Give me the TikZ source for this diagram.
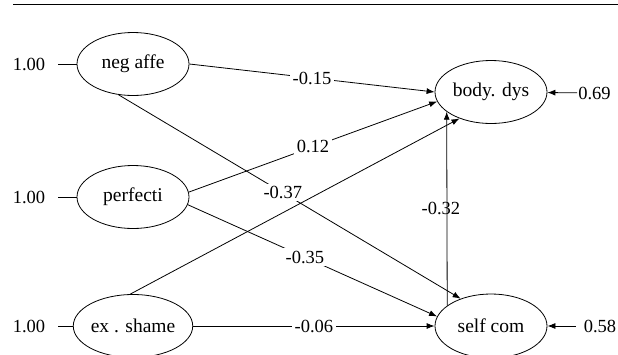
\documentclass[tikz,border=0pt]{standalone}
\usepackage{fontspec}
\setmainfont{Liberation Serif}
\usetikzlibrary{shapes.geometric,arrows.meta}
\begin{document}
\begin{tikzpicture}[x=1pt,y=-1pt,
  font=\fontsize{18.5}{20}\selectfont,
  var/.style={draw, ellipse, minimum width=112pt, minimum height=63pt, inner sep=0pt, line width=0.8pt, font=\fontsize{19.5}{21}\selectfont},
  conn/.style={line width=0.8pt, -{Latex[length=8pt,width=6pt]}},
  plain/.style={line width=0.8pt},
  coef/.style={fill=white, inner sep=2.5pt},
  errl/.style={inner sep=1pt, outer xsep=12pt},
  resl/.style={inner sep=1pt}
]
\clip (0,0) rectangle (618,354);
\draw[line width=1pt] (13,4) -- (618,4);

\node[var] (na) at (133,64) {neg affe};
\node[var] (pf) at (133,197) {perfecti};
\node[var] (es) at (133,326) {ex . shame};
\node[var] (bd) at (491,92) {body. dys};
\node[var, minimum height=64pt] (sc) at (491,326) {self com};

\node[errl] (e1) at (29,64) {1.00};
\node[errl] (e2) at (29,197) {1.00};
\node[errl] (e3) at (29,326) {1.00};
\node[resl] (r1) at (594.5,93) {0.69};
\node[resl, outer xsep=7pt] (r2) at (600,326) {0.58};

\draw[plain] (e1) -- (na);
\draw[plain] (e2) -- (pf);
\draw[plain] (e3) -- (es);
\draw[conn] (r1) -- (bd);
\draw[conn] (r2) -- (sc);

\draw[conn] (na.east) -- node[coef] {-0.15} (bd.west);
\draw[conn] (pf.5) -- node[coef] {0.12} (bd.190);
\draw[conn] (na.245) -- node[coef, pos=0.48] {-0.37} (sc.138);
\draw[conn] (pf.-8) -- node[coef, pos=0.47] {-0.35} (sc.170);
\draw[conn] (es.east) -- node[coef] {-0.06} (sc.west);
\draw[conn] (sc.155.8) -- node[xshift=-6pt, inner sep=0pt] {-0.32} (bd.204.2);
\draw[conn] (es.95) -- (bd.220);
\end{tikzpicture}
\end{document}
